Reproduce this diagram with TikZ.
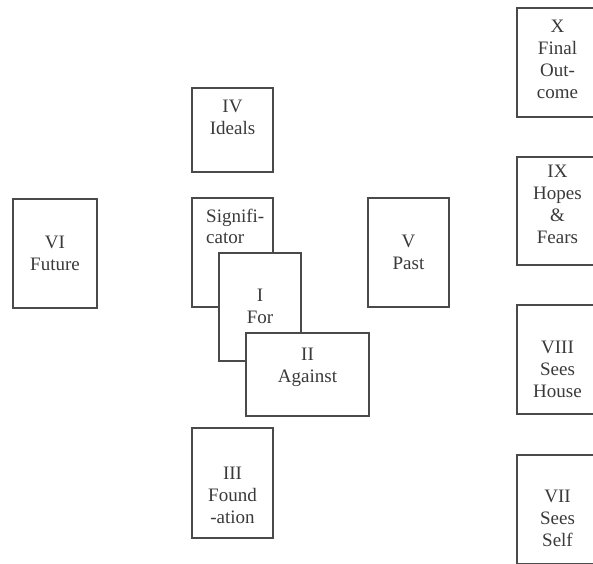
\documentclass[tikz,border=0pt]{standalone}
\usepackage{fontspec}
\setmainfont{Liberation Serif}
\definecolor{edge}{HTML}{4A4A4A}
\definecolor{ink}{HTML}{3A3A3A}
\tikzset{
  card/.style={draw=edge, line width=1.4pt, fill=white, inner sep=0pt},
  lbl/.style={text=ink, align=center, inner sep=0pt, anchor=base, font=\fontsize{19}{22}\selectfont},
}
\begin{document}
\begin{tikzpicture}[x=1pt,y=-1pt]
\useasboundingbox (0,0) rectangle (593,563);
\clip (0,0) rectangle (593,563);
\fill[white] (0,0) rectangle (593,563);
% IV
\node[card, minimum width=81pt, minimum height=84pt] (iv) at (232.5,130) {};
\node[lbl] (ivt) at (232.5,134) {IV\\Ideals};
% Significator, I, II
\node[card, minimum width=81pt, minimum height=109pt] (sig) at (232.5,252.5) {};
\node[lbl, align=left, anchor=base west, font=\fontsize{19}{20.5}\selectfont] (sigt) at (206,243) {Signifi-\\cator};
\node[card, minimum width=82pt, minimum height=108pt] (i) at (260,307) {};
\node[lbl] (it) at (260,323) {I\\For};
\node[card, minimum width=123pt, minimum height=83pt] (ii) at (307.5,374.5) {};
\node[lbl] (iit) at (307.5,382) {II\\Against};
% III
\node[card, minimum width=81pt, minimum height=110pt] (iii) at (232.5,483) {};
\node[lbl] (iiit) at (232.5,523) {III\\Found\\-ation};
% VI
\node[card, minimum width=84pt, minimum height=109pt] (vi) at (55,253.5) {};
\node[lbl] (vit) at (55,270) {VI\\Future};
% V
\node[card, minimum width=81pt, minimum height=109pt] (v) at (408.5,252.5) {};
\node[lbl] (vt) at (408.5,269) {V\\Past};
% right column
\node[card, minimum width=81pt, minimum height=109pt] (x) at (557.5,62.5) {};
\node[lbl] (xt) at (557.5,98) {X\\Final\\Out-\\come};
\node[card, minimum width=81pt, minimum height=108pt] (ix) at (557.5,211) {};
\node[lbl] (ixt) at (557.5,243) {IX\\Hopes\\\&\\Fears};
\node[card, minimum width=81pt, minimum height=109pt] (viii) at (557.5,359.5) {};
\node[lbl] (viiit) at (557.5,397) {VIII\\Sees\\House};
\node[card, minimum width=81pt, minimum height=109pt] (vii) at (557.5,509.5) {};
\node[lbl] (viit) at (557.5,546) {VII\\Sees\\Self};
\end{tikzpicture}
\end{document}
